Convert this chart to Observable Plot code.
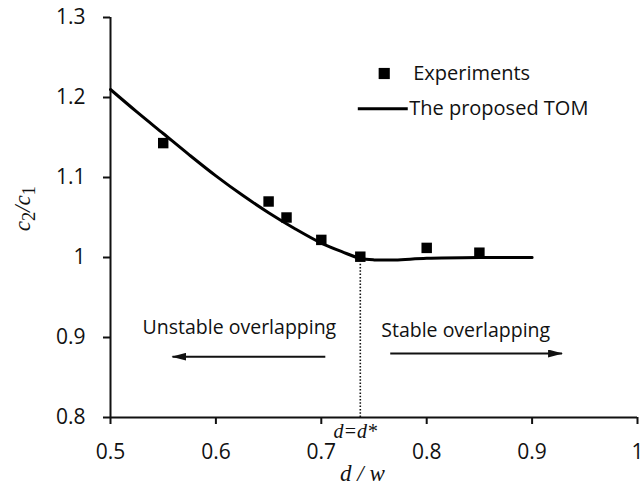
<!DOCTYPE html>
<html>
<head>
<meta charset="utf-8">
<script src="https://cdn.jsdelivr.net/npm/d3@7"></script>
<script src="https://cdn.jsdelivr.net/npm/@observablehq/plot@0.6"></script>
<style>
  html, body { margin: 0; padding: 0; background: #fff; }
</style>
</head>
<body>
<div id="chart"></div>
<script>
// Experiments (squares)
const expX = [0.55, 0.65, 0.667, 0.70, 0.737, 0.80, 0.85];
const expY = [1.143, 1.070, 1.050, 1.022, 1.001, 1.012, 1.006];
// The proposed TOM (line)
const tomX = [0.5, 0.525, 0.55, 0.575, 0.6, 0.625, 0.65, 0.675, 0.7, 0.72, 0.737, 0.75, 0.77, 0.8, 0.85, 0.9];
const tomY = [1.21, 1.182, 1.155, 1.128, 1.102, 1.078, 1.056, 1.036, 1.018, 1.007, 0.999, 0.997, 0.997, 0.999, 1.0, 1.0];
// Axis ticks
const xTicks = [0.5, 0.6, 0.7, 0.8, 0.9, 1.0];
const xTickLabels = ["0.5", "0.6", "0.7", "0.8", "0.9", "1"];
const yTicks = [0.8, 0.9, 1.0, 1.1, 1.2, 1.3];
const yTickLabels = ["0.8", "0.9", "1", "1.1", "1.2", "1.3"];
// Critical d*
const dStar = [0.737];
const dStarTop = [0.993];
// Annotations
const regionLabels = ["Unstable overlapping", "Stable overlapping"];
const regionX = [0.6223, 0.837];
const regionY = [0.9125, 0.909];
const arrowX1 = [0.7038, 0.7654];
const arrowX2 = [0.5588, 0.9284];
const arrowY = [0.876, 0.880];
// Legend
const legendLabels = ["Experiments", "The proposed TOM"];
const legendTextX = [0.7872, 0.7834];
const legendY = [1.23, 1.186];
const legendSymX = [0.7597];
const legendLineX1 = [0.7351];
const legendLineX2 = [0.7825];
// Axis titles
const xTitle = ["d / w"];
const yTitle = "c2/c1";
const yTitleParts = [["c", false], ["2", true], ["/", false], ["c", false], ["1", true]];

const expData = expX.map((x, i) => ({x, y: expY[i]}));
const tomData = tomX.map((x, i) => ({x, y: tomY[i]}));
const xFmt = new Map(xTicks.map((t, i) => [t, xTickLabels[i]]));
const yFmt = new Map(yTicks.map((t, i) => [t, yTickLabels[i]]));

const serif = "'Liberation Serif', 'DejaVu Serif', serif";

const chart = Plot.plot({
  width: 643,
  height: 497,
  marginLeft: 110,
  marginRight: 6,
  marginTop: 17,
  marginBottom: 80,
  x: {domain: [0.5, 1.0]},
  y: {domain: [0.8, 1.3]},
  style: {fontFamily: "'Open Sans', sans-serif", fontSize: "21px", color: "#111", background: "#fff"},
  marks: [
    Plot.axisX(xTicks, {tickSize: 7, tickPadding: 20, strokeWidth: 2, tickFormat: d => xFmt.get(d), label: null, fontSize: 21}),
    Plot.axisY(yTicks, {tickSize: 7, tickPadding: 18, strokeWidth: 2, tickFormat: d => yFmt.get(d), label: null, fontSize: 21}),
    Plot.ruleY([0.8], {stroke: "#111", strokeWidth: 2}),
    Plot.ruleX([0.5], {stroke: "#111", strokeWidth: 2}),
    Plot.ruleX(dStar, {y1: 0.8, y2: dStarTop, stroke: "#111", strokeWidth: 1.6, strokeDasharray: "1.5,1.8"}),
    Plot.line(tomData, {x: "x", y: "y", curve: "catmull-rom", stroke: "#000", strokeWidth: 3}),
    Plot.dot(expData, {x: "x", y: "y", symbol: "square", r: 5.9, fill: "#000", stroke: "none"}),
    // region annotations
    Plot.text(regionLabels, {x: regionX, y: regionY, text: d => d, fontSize: 19.5, fill: "#111", textAnchor: "middle"}),
    Plot.link(regionLabels, {x1: arrowX1, x2: arrowX2, y1: arrowY, y2: arrowY, stroke: "#111", strokeWidth: 2}),
    // d = d*
    Plot.text(["d=d*"], {x: [0.7322], y: [0.775], text: d => d, fontFamily: serif, fontStyle: "italic", fontSize: 20, lineAnchor: "bottom", fill: "#111"}),
    // axis titles
    Plot.text(xTitle, {x: [0.739], y: [0.72125], text: d => d, fontFamily: serif, fontStyle: "italic", fontSize: 23, lineAnchor: "bottom", fill: "#111"}),
    Plot.text([yTitle], {x: [0.4166], y: [1.061], text: d => d, rotate: -90, fontFamily: serif, fontStyle: "italic", fontSize: 23, fill: "#111"}),
    // legend
    Plot.dot(legendSymX, {x: d => d, y: [legendY[0]], symbol: "square", r: 6.3, fill: "#000", stroke: "none"}),
    Plot.ruleY([legendY[1]], {x1: legendLineX1, x2: legendLineX2, stroke: "#000", strokeWidth: 3}),
    Plot.text(legendLabels, {x: legendTextX, y: legendY, text: d => d, textAnchor: "start", fontSize: 20, fill: "#111"})
  ]
});

const sel = d3.select(chart);

// subscripts on the y title
sel.selectAll("text").filter(function() { return this.textContent === yTitle; }).each(function() {
  const t = d3.select(this);
  t.text(null);
  yTitleParts.forEach(([s, sub]) => {
    t.append("tspan")
      .attr("baseline-shift", sub ? "-28%" : null)
      .attr("font-size", sub ? "0.8em" : null)
      .attr("font-style", sub ? "normal" : null)
      .text(s);
  });
});

// filled arrowheads on the region arrows
const defs = sel.append("defs");
defs.append("marker")
  .attr("id", "head")
  .attr("viewBox", "0 0 15 8")
  .attr("markerWidth", 15)
  .attr("markerHeight", 8)
  .attr("markerUnits", "userSpaceOnUse")
  .attr("refX", 14)
  .attr("refY", 4)
  .attr("orient", "auto")
  .append("path")
  .attr("d", "M0,0 L15,4 L0,8 Z")
  .attr("fill", "#111");
sel.selectAll('g[aria-label="link"] path').attr("marker-end", "url(#head)");

document.getElementById("chart").appendChild(chart);
</script>
</body>
</html>
